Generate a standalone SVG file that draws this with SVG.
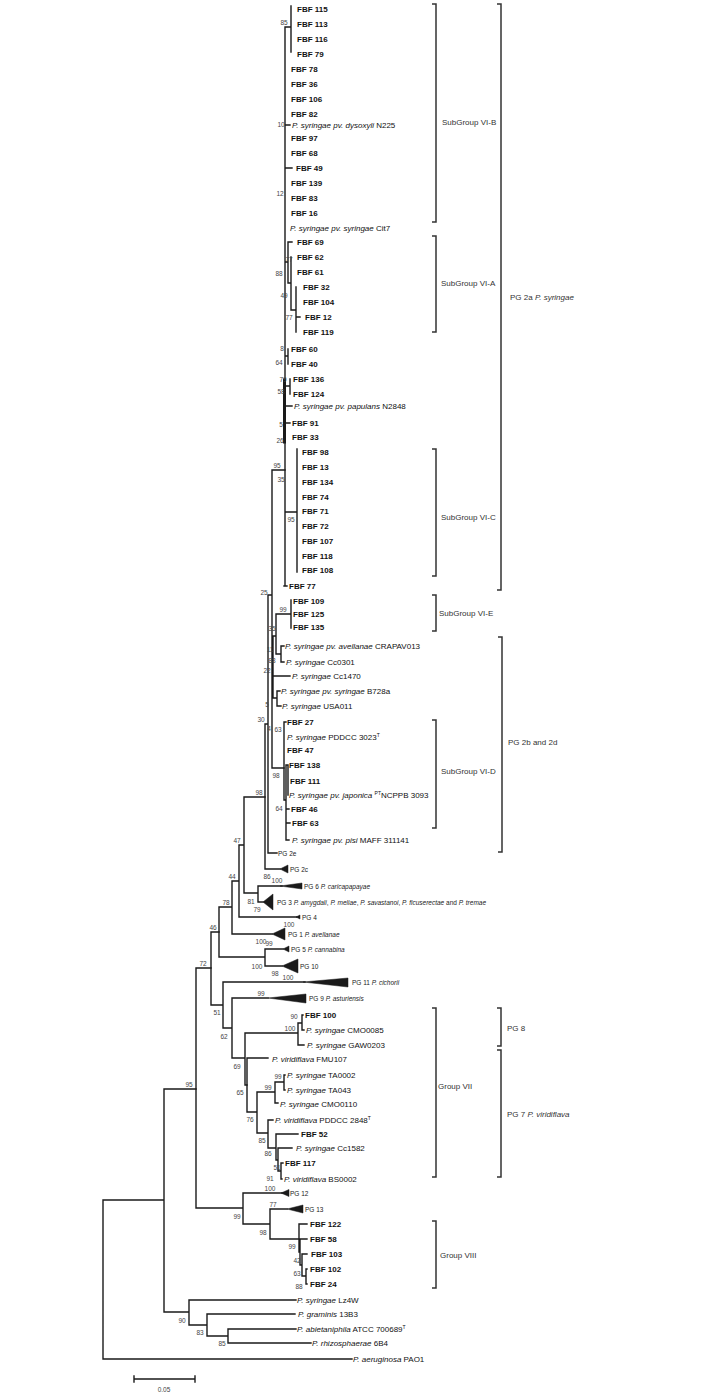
<svg xmlns="http://www.w3.org/2000/svg" width="706" height="1394" viewBox="0 0 706 1394">
<style>
text{font-family:"Liberation Sans",Arial,sans-serif;}
.lf{font-size:8px;fill:#111;}
.b{font-weight:bold;}
.i{font-style:italic;}
.bs{font-size:6.5px;fill:#444;text-anchor:middle;}
.pg{font-size:6.5px;fill:#222;}
.gl{font-size:8px;fill:#333;}
.br{fill:none;stroke:#1a1a1a;stroke-width:1.4;stroke-linecap:square;}
.bk{fill:none;stroke:#333;stroke-width:1.5;}
.wd{fill:#1a1a1a;stroke:#1a1a1a;stroke-width:0.5;}
</style>
<rect width="706" height="1394" fill="#fff"/>
<g id="connectors">
<path class="br" d="M103,1200V1359M103,1200H164M103,1359H352M164,1089V1312M164,1089H196M164,1312H189M189,1300V1325M189,1300H296M189,1325H207M207,1314V1336M207,1314H295M207,1336H228M228,1329V1343M228,1329H296M228,1343H311"/>
<path class="br" d="M196,968V1208M196,968H211M196,1208H243M243,1193V1224M243,1193H283M243,1224H270M270,1209V1239M270,1209H287M270,1239H299M299,1224V1252M299,1224H307M299,1252H300M300,1239V1265M300,1239H307M300,1265H302M302,1254V1276M302,1254H307M302,1276H306M306,1269V1284M306,1269H307M306,1284H307"/>
<path class="br" d="M211,932V1005M211,932H219M211,1005H223M223,982V1028M223,982H305M223,1028H232M232,998V1058M232,998H268M232,1058H245M245,1033V1085M245,1033H298M245,1085H247M298,1023V1045M298,1023H302M298,1045H304M302,1015V1030M302,1015H303M302,1030H304"/>
<path class="br" d="M247,1058V1112M247,1058H268M247,1112H257M257,1092V1133M257,1092H275M257,1133H268M275,1082V1103M275,1082H284M275,1103H278M284,1075V1090M284,1075H285M284,1090H285M268,1120V1148M268,1120H273M268,1148H276M276,1134V1160M276,1134H298M276,1160H278M278,1148V1171M278,1148H292M278,1171H281M281,1163V1179M281,1163H283M281,1179H282"/>
<path class="br" d="M219,907V957M219,907H232M219,957H265M265,949V966M265,949H283M265,966H282M232,881V934M232,881H239M232,934H272M239,845V917M239,845H244M239,917H297M244,797V893M244,797H265M244,893H258M258,886V902M258,886H282M258,902H263"/>
<path class="br" d="M265,724V869M265,724H268M265,869H280M268,595V853M268,853H277M268,595H272M272,470V768M272,470H285M272,768H284M272,667H273M273,636V698M273,636H276M276,614V654M276,614H291M291,600V628M276,654H281M281,646V662M281,646H284M281,662H284M273,676H290M273,698H277M277,691V706M277,691H280M277,706H281"/>
<path class="br" d="M284,722V800M284,722H286M284,800H286M286,765V840M288,765V795M286,765H288M286,809H289M286,823H290M286,840H289"/>
<path class="br" d="M285,27V586M285,27H291M291,6V52M285,125H290M285,168H292M285,262H288M288,242V283M288,242H292M288,283H291M291,257V310M291,310H296M296,287V332M296,317H300M285,356H288M288,349V364M285,386H290M290,379V394M285,406H292M285,423H290M285,512H297M297,449V572M284,586H287"/>
<path class="br" d="M284.5,380V442" style="stroke-width:3"/>
</g>
<g id="collapsed">
<polygon class="wd" points="281,1193 289,1189.5 289,1196.5"/>
<polygon class="wd" points="287,1209 303,1205 303,1213"/>
<polygon class="wd" points="303,982 348,978 348,987"/>
<polygon class="wd" points="268,998 306,994 306,1003"/>
<polygon class="wd" points="282,966 298,959 298,973"/>
<polygon class="wd" points="283,949 289,946 289,952"/>
<polygon class="wd" points="272,934 285,928 285,940"/>
<polygon class="wd" points="296,917 300,915 300,919"/>
<polygon class="wd" points="280,886 302,883 302,889"/>
<polygon class="wd" points="263,902 273,894 273,910"/>
<polygon class="wd" points="280,869 288,865 288,873"/>
</g>
<g id="pg-labels">
<g id="pg2e"><text class="pg" x="278" y="855.5">PG 2e</text></g>
<g id="pg2c"><text class="pg" x="290" y="872">PG 2c</text></g>
<g id="pg6"><text class="pg" x="304" y="889">PG 6 <tspan class="i">P. caricapapayae</tspan></text></g>
<g id="pg3"><text class="pg" x="277" y="904.5">PG 3 <tspan class="i">P. amygdali</tspan>, <tspan class="i">P. meliae</tspan>, <tspan class="i">P. savastanoi</tspan>, <tspan class="i">P. ficuserectae</tspan> and <tspan class="i">P. tremae</tspan></text></g>
<g id="pg4"><text class="pg" x="302" y="919.5">PG 4</text></g>
<g id="pg1"><text class="pg" x="288" y="936.5">PG 1 <tspan class="i">P. avellanae</tspan></text></g>
<g id="pg5"><text class="pg" x="291" y="951.5">PG 5 <tspan class="i">P. cannabina</tspan></text></g>
<g id="pg10"><text class="pg" x="300" y="968.5">PG 10</text></g>
<g id="pg11"><text class="pg" x="352" y="984.5">PG 11 <tspan class="i">P. cichorii</tspan></text></g>
<g id="pg9"><text class="pg" x="309" y="1000.5">PG 9 <tspan class="i">P. asturiensis</tspan></text></g>
<g id="pg12"><text class="pg" x="290" y="1195.5">PG 12</text></g>
<g id="pg13"><text class="pg" x="305" y="1211.5">PG 13</text></g>
</g>
<g id="leaves">
<g id="l-fbf115"><text class="lf b" x="297" y="12">FBF 115</text></g>
<g id="l-fbf113"><text class="lf b" x="297" y="27">FBF 113</text></g>
<g id="l-fbf116"><text class="lf b" x="297" y="42">FBF 116</text></g>
<g id="l-fbf79"><text class="lf b" x="297" y="57">FBF 79</text></g>
<g id="l-fbf78"><text class="lf b" x="291" y="72">FBF 78</text></g>
<g id="l-fbf36"><text class="lf b" x="291" y="87">FBF 36</text></g>
<g id="l-fbf106"><text class="lf b" x="291" y="102">FBF 106</text></g>
<g id="l-fbf82"><text class="lf b" x="291" y="117">FBF 82</text></g>
<g id="l-n225"><text class="lf" x="292" y="128"><tspan class="i">P. syringae pv. dysoxyli</tspan> N225</text></g>
<g id="l-fbf97"><text class="lf b" x="291" y="141">FBF 97</text></g>
<g id="l-fbf68"><text class="lf b" x="291" y="156">FBF 68</text></g>
<g id="l-fbf49"><text class="lf b" x="296" y="171">FBF 49</text></g>
<g id="l-fbf139"><text class="lf b" x="291" y="186">FBF 139</text></g>
<g id="l-fbf83"><text class="lf b" x="291" y="201">FBF 83</text></g>
<g id="l-fbf16"><text class="lf b" x="291" y="216">FBF 16</text></g>
<g id="l-cit7"><text class="lf" x="290" y="231"><tspan class="i">P. syringae pv. syringae</tspan> Cit7</text></g>
<g id="l-fbf69"><text class="lf b" x="297" y="245">FBF 69</text></g>
<g id="l-fbf62"><text class="lf b" x="297" y="260">FBF 62</text></g>
<g id="l-fbf61"><text class="lf b" x="297" y="275">FBF 61</text></g>
<g id="l-fbf32"><text class="lf b" x="303" y="290">FBF 32</text></g>
<g id="l-fbf104"><text class="lf b" x="303" y="305">FBF 104</text></g>
<g id="l-fbf12"><text class="lf b" x="305" y="320">FBF 12</text></g>
<g id="l-fbf119"><text class="lf b" x="303" y="335">FBF 119</text></g>
<g id="l-fbf60"><text class="lf b" x="291" y="352">FBF 60</text></g>
<g id="l-fbf40"><text class="lf b" x="291" y="367">FBF 40</text></g>
<g id="l-fbf136"><text class="lf b" x="293" y="382">FBF 136</text></g>
<g id="l-fbf124"><text class="lf b" x="293" y="397">FBF 124</text></g>
<g id="l-n2848"><text class="lf" x="294" y="409"><tspan class="i">P. syringae pv. papulans</tspan> N2848</text></g>
<g id="l-fbf91"><text class="lf b" x="292" y="426">FBF 91</text></g>
<g id="l-fbf33"><text class="lf b" x="292" y="440">FBF 33</text></g>
<g id="l-fbf98"><text class="lf b" x="302" y="455">FBF 98</text></g>
<g id="l-fbf13"><text class="lf b" x="302" y="470">FBF 13</text></g>
<g id="l-fbf134"><text class="lf b" x="302" y="485">FBF 134</text></g>
<g id="l-fbf74"><text class="lf b" x="302" y="500">FBF 74</text></g>
<g id="l-fbf71"><text class="lf b" x="302" y="514">FBF 71</text></g>
<g id="l-fbf72"><text class="lf b" x="302" y="529">FBF 72</text></g>
<g id="l-fbf107"><text class="lf b" x="302" y="544">FBF 107</text></g>
<g id="l-fbf118"><text class="lf b" x="302" y="559">FBF 118</text></g>
<g id="l-fbf108"><text class="lf b" x="302" y="573">FBF 108</text></g>
<g id="l-fbf77"><text class="lf b" x="289" y="589">FBF 77</text></g>
<g id="l-fbf109"><text class="lf b" x="293" y="604">FBF 109</text></g>
<g id="l-fbf125"><text class="lf b" x="293" y="617">FBF 125</text></g>
<g id="l-fbf135"><text class="lf b" x="293" y="630">FBF 135</text></g>
<g id="l-crapav013"><text class="lf" x="285" y="649"><tspan class="i">P. syringae pv. avellanae</tspan> CRAPAV013</text></g>
<g id="l-cc0301"><text class="lf" x="286" y="665"><tspan class="i">P. syringae</tspan> Cc0301</text></g>
<g id="l-cc1470"><text class="lf" x="292" y="679"><tspan class="i">P. syringae</tspan> Cc1470</text></g>
<g id="l-b728a"><text class="lf" x="281" y="694"><tspan class="i">P. syringae pv. syringae</tspan> B728a</text></g>
<g id="l-usa011"><text class="lf" x="282" y="709"><tspan class="i">P. syringae</tspan> USA011</text></g>
<g id="l-fbf27"><text class="lf b" x="287" y="725">FBF 27</text></g>
<g id="l-pddcc3023"><text class="lf" x="287" y="740"><tspan class="i">P. syringae</tspan> PDDCC 3023<tspan dy="-3.5" font-size="5">T</tspan></text></g>
<g id="l-fbf47"><text class="lf b" x="287" y="753">FBF 47</text></g>
<g id="l-fbf138"><text class="lf b" x="289" y="768">FBF 138</text></g>
<g id="l-fbf111"><text class="lf b" x="290" y="784">FBF 111</text></g>
<g id="l-ncppb3093"><text class="lf" x="289" y="798"><tspan class="i">P. syringae pv. japonica</tspan> <tspan dy="-3.5" font-size="5">PT</tspan><tspan dy="3.5">NCPPB 3093</tspan></text></g>
<g id="l-fbf46"><text class="lf b" x="291" y="812">FBF 46</text></g>
<g id="l-fbf63"><text class="lf b" x="292" y="826">FBF 63</text></g>
<g id="l-maff311141"><text class="lf" x="292" y="843"><tspan class="i">P. syringae pv. pisi</tspan> MAFF 311141</text></g>
<g id="l-fbf100"><text class="lf b" x="305" y="1018">FBF 100</text></g>
<g id="l-cmo0085"><text class="lf" x="306" y="1033"><tspan class="i">P. syringae</tspan> CMO0085</text></g>
<g id="l-gaw0203"><text class="lf" x="307" y="1048"><tspan class="i">P. syringae</tspan> GAW0203</text></g>
<g id="l-fmu107"><text class="lf" x="272" y="1062"><tspan class="i">P. viridiflava</tspan> FMU107</text></g>
<g id="l-ta0002"><text class="lf" x="287" y="1078"><tspan class="i">P. syringae</tspan> TA0002</text></g>
<g id="l-ta043"><text class="lf" x="287" y="1093"><tspan class="i">P. syringae</tspan> TA043</text></g>
<g id="l-cmo0110"><text class="lf" x="280" y="1107"><tspan class="i">P. syringae</tspan> CMO0110</text></g>
<g id="l-pddcc2848"><text class="lf" x="275" y="1123"><tspan class="i">P. viridiflava</tspan> PDDCC 2848<tspan dy="-3.5" font-size="5">T</tspan></text></g>
<g id="l-fbf52"><text class="lf b" x="301" y="1137">FBF 52</text></g>
<g id="l-cc1582"><text class="lf" x="296" y="1151"><tspan class="i">P. syringae</tspan> Cc1582</text></g>
<g id="l-fbf117"><text class="lf b" x="285" y="1166">FBF 117</text></g>
<g id="l-bs0002"><text class="lf" x="284" y="1182"><tspan class="i">P. viridiflava</tspan> BS0002</text></g>
<g id="l-fbf122"><text class="lf b" x="310" y="1227">FBF 122</text></g>
<g id="l-fbf58"><text class="lf b" x="310" y="1242">FBF 58</text></g>
<g id="l-fbf103"><text class="lf b" x="311" y="1257">FBF 103</text></g>
<g id="l-fbf102"><text class="lf b" x="310" y="1272">FBF 102</text></g>
<g id="l-fbf24"><text class="lf b" x="310" y="1287">FBF 24</text></g>
<g id="l-lz4w"><text class="lf" x="297" y="1303"><tspan class="i">P. syringae</tspan> Lz4W</text></g>
<g id="l-13b3"><text class="lf" x="298" y="1317"><tspan class="i">P. graminis</tspan> 13B3</text></g>
<g id="l-atcc700689"><text class="lf" x="297" y="1332"><tspan class="i">P. abietaniphila</tspan> ATCC 700689<tspan dy="-3.5" font-size="5">T</tspan></text></g>
<g id="l-6b4"><text class="lf" x="312" y="1346"><tspan class="i">P. rhizosphaerae</tspan> 6B4</text></g>
<g id="l-pao1"><text class="lf" x="353" y="1362"><tspan class="i">P. aeruginosa</tspan> PAO1</text></g>
</g>
<g id="support">
<text class="bs" x="284" y="25">85</text>
<text class="bs" x="281" y="127">10</text>
<text class="bs" x="280" y="196">12</text>
<text class="bs" x="289" y="262">77</text>
<text class="bs" x="279" y="276">88</text>
<text class="bs" x="284" y="298">49</text>
<text class="bs" x="289" y="320">77</text>
<text class="bs" x="282" y="351">8</text>
<text class="bs" x="279" y="365">64</text>
<text class="bs" x="283" y="382">79</text>
<text class="bs" x="281" y="394">58</text>
<text class="bs" x="281" y="427">5</text>
<text class="bs" x="280" y="443">26</text>
<text class="bs" x="277" y="468">95</text>
<text class="bs" x="281" y="482">35</text>
<text class="bs" x="291" y="522">95</text>
<text class="bs" x="264" y="595">25</text>
<text class="bs" x="283" y="612">99</text>
<text class="bs" x="272" y="631">35</text>
<text class="bs" x="270" y="652">11</text>
<text class="bs" x="272" y="663">88</text>
<text class="bs" x="267" y="673">22</text>
<text class="bs" x="267" y="707">5</text>
<text class="bs" x="261" y="722">30</text>
<text class="bs" x="269" y="731">4</text>
<text class="bs" x="278" y="732">63</text>
<text class="bs" x="276" y="778">98</text>
<text class="bs" x="279" y="811">64</text>
<text class="bs" x="259" y="795">98</text>
<text class="bs" x="237" y="843">47</text>
<text class="bs" x="267" y="879">86</text>
<text class="bs" x="277" y="883">100</text>
<text class="bs" x="232" y="879">44</text>
<text class="bs" x="251" y="904">81</text>
<text class="bs" x="257" y="912">79</text>
<text class="bs" x="226" y="905">78</text>
<text class="bs" x="289" y="927">100</text>
<text class="bs" x="213" y="930">46</text>
<text class="bs" x="261" y="944">100</text>
<text class="bs" x="269" y="946">99</text>
<text class="bs" x="257" y="969">100</text>
<text class="bs" x="203" y="966">72</text>
<text class="bs" x="275" y="976">98</text>
<text class="bs" x="288" y="980">100</text>
<text class="bs" x="217" y="1015">51</text>
<text class="bs" x="261" y="996">99</text>
<text class="bs" x="294" y="1019">90</text>
<text class="bs" x="290" y="1031">100</text>
<text class="bs" x="224" y="1039">62</text>
<text class="bs" x="237" y="1069">69</text>
<text class="bs" x="278" y="1079">99</text>
<text class="bs" x="268" y="1090">99</text>
<text class="bs" x="189" y="1087">95</text>
<text class="bs" x="240" y="1095">65</text>
<text class="bs" x="250" y="1122">76</text>
<text class="bs" x="262" y="1143">85</text>
<text class="bs" x="268" y="1156">86</text>
<text class="bs" x="277" y="1170">51</text>
<text class="bs" x="270" y="1181">91</text>
<text class="bs" x="270" y="1191">100</text>
<text class="bs" x="273" y="1207">77</text>
<text class="bs" x="237" y="1219">99</text>
<text class="bs" x="263" y="1235">98</text>
<text class="bs" x="292" y="1249">99</text>
<text class="bs" x="297" y="1263">42</text>
<text class="bs" x="297" y="1276">63</text>
<text class="bs" x="299" y="1289">88</text>
<text class="bs" x="182" y="1323">90</text>
<text class="bs" x="200" y="1335">83</text>
<text class="bs" x="222" y="1346">85</text>
</g>
<g id="brackets">
<g id="bk-vib"><path class="bk" d="M432,4H436V222H432"/><text class="gl" x="442" y="125">SubGroup VI-B</text></g>
<g id="bk-via"><path class="bk" d="M432,236H436V332H432"/><text class="gl" x="441" y="286">SubGroup VI-A</text></g>
<g id="bk-vic"><path class="bk" d="M432,449H436V576H432"/><text class="gl" x="441" y="520">SubGroup VI-C</text></g>
<g id="bk-vie"><path class="bk" d="M432,595H436V631H432"/><text class="gl" x="439" y="616">SubGroup VI-E</text></g>
<g id="bk-vid"><path class="bk" d="M432,720H436V828H432"/><text class="gl" x="441" y="774">SubGroup VI-D</text></g>
<g id="bk-pg2a"><path class="bk" d="M497,4H501V590H497"/><text class="gl" x="510" y="300">PG 2a <tspan class="i">P. syringae</tspan></text></g>
<g id="bk-pg2bd"><path class="bk" d="M498,637H502V852H498"/><text class="gl" x="508" y="745">PG 2b and 2d</text></g>
<g id="bk-gvii"><path class="bk" d="M432,1008H436V1177H432"/><text class="gl" x="438" y="1089">Group VII</text></g>
<g id="bk-pg8"><path class="bk" d="M497,1008H501V1046H497"/><text class="gl" x="507" y="1031">PG 8</text></g>
<g id="bk-pg7"><path class="bk" d="M497,1050H501V1177H497"/><text class="gl" x="507" y="1117">PG 7 <tspan class="i">P. viridiflava</tspan></text></g>
<g id="bk-gviii"><path class="bk" d="M432,1221H436V1288H432"/><text class="gl" x="440" y="1258">Group VIII</text></g>
</g>
<g id="scale">
<path class="br" d="M134,1379H195M134,1376V1382M195,1376V1382"/>
<text class="bs" x="164" y="1392">0.05</text>
</g>
</svg>
